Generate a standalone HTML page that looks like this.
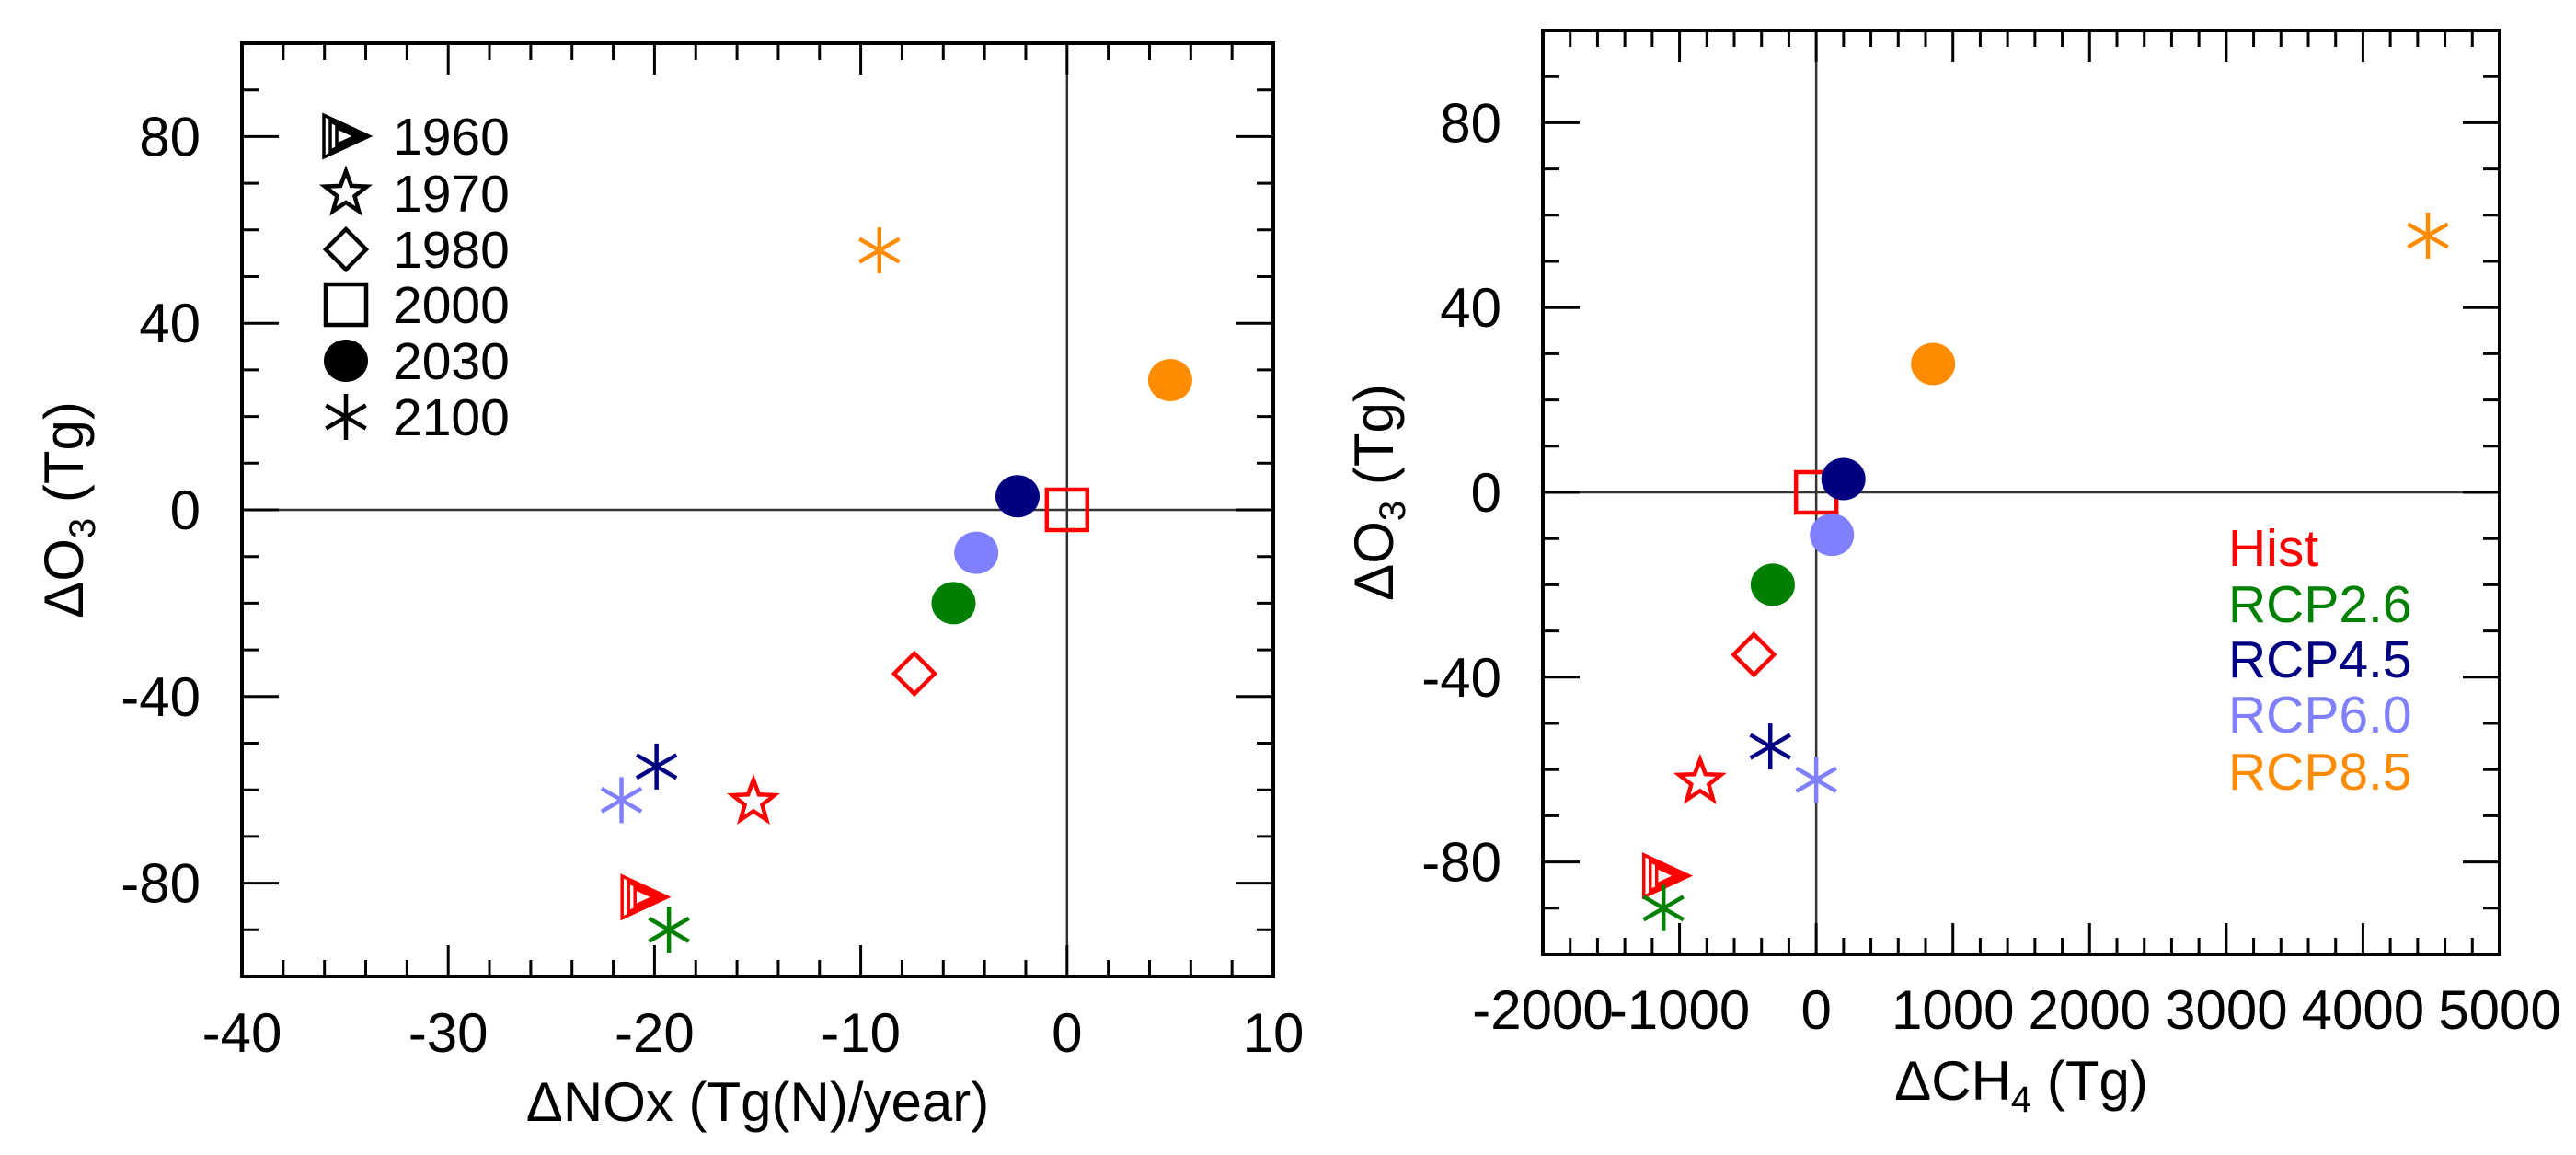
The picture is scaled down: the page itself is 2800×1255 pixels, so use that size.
<!DOCTYPE html>
<html><head><meta charset="utf-8"><style>
html,body{margin:0;padding:0;background:#fff}
svg{display:block}
text{font-family:"Liberation Sans",Arial,sans-serif;fill:#000}
</style></head><body>
<svg id="chart" width="2800" height="1255" viewBox="0 0 2800 1255" xmlns="http://www.w3.org/2000/svg">
<g id="left"></g>
<g id="right"></g>
</svg>
<script>
// Data
const scenarios = ["Hist","Hist","Hist","Hist","RCP2.6","RCP4.5","RCP6.0","RCP8.5","RCP2.6","RCP4.5","RCP6.0","RCP8.5"];
const years = ["1960","1970","1980","2000","2030","2030","2030","2030","2100","2100","2100","2100"];
const dNOx = [-20.5,-15.2,-7.4,0,-5.5,-2.4,-4.4,5.0,-19.3,-19.9,-21.6,-9.1];
const dCH4 = [-1100,-850,-456,0,-318,199,115,855,-1117,-336,0,4475];
const dO3 = [-83,-62.6,-35.1,0,-20,2.9,-9.2,27.8,-90,-55,-62.2,55.6];
const leftXTicks = [-40,-30,-20,-10,0,10];
const rightXTicks = [-2000,-1000,0,1000,2000,3000,4000,5000];
const yTicks = [-80,-40,0,40,80];
const legendYears = ["1960","1970","1980","2000","2030","2100"];
const legendScen = ["Hist","RCP2.6","RCP4.5","RCP6.0","RCP8.5"];

const colors = {"Hist":"#ff0000","RCP2.6":"#008000","RCP4.5":"#000080","RCP6.0":"#8080ff","RCP8.5":"#ff8c00"};
const yearShape = {"1960":"tri","1970":"star","1980":"diamond","2000":"square","2030":"circle","2100":"asterisk"};
const NS="http://www.w3.org/2000/svg";
function mk(tag,attrs,parent){const e=document.createElementNS(NS,tag);for(const k in attrs)e.setAttribute(k,attrs[k]);parent.appendChild(e);return e;}

function marker(g,shape,cx,cy,col){
  let e;
  if(shape==="circle"){e=mk("ellipse",{cx:cx,cy:cy,rx:24,ry:23,fill:col},g);}
  else if(shape==="square"){e=mk("rect",{x:cx-22,y:cy-22,width:44,height:44,fill:"none",stroke:col,"stroke-width":4.5},g);}
  else if(shape==="diamond"){e=mk("polygon",{points:`${cx},${cy-22} ${cx+22},${cy} ${cx},${cy+22} ${cx-22},${cy}`,fill:"none",stroke:col,"stroke-width":4.5},g);}
  else if(shape==="star"){let p=[];for(let i=0;i<10;i++){const r=i%2?10:24;const a=-Math.PI/2+i*Math.PI/5;p.push((cx+r*Math.cos(a)).toFixed(1)+","+(cy+r*Math.sin(a)).toFixed(1));}
    e=mk("polygon",{points:p.join(" "),fill:"none",stroke:col,"stroke-width":4.5,"stroke-linejoin":"miter"},g);}
  else if(shape==="tri"){e=mk("g",{},g);[24,17,10].forEach((s)=>{mk("polygon",{points:`${cx-s},${cy-s*0.95} ${cx+s*1.05},${cy} ${cx-s},${cy+s*0.95}`,fill:"none",stroke:col,"stroke-width":3.5},e);});}
  else if(shape==="asterisk"){e=mk("g",{stroke:col,"stroke-width":4.5},g);
    mk("line",{x1:cx,y1:cy-25,x2:cx,y2:cy+25},e);
    [30,-30].forEach(d=>{const a=d*Math.PI/180;mk("line",{x1:cx-25*Math.cos(a),y1:cy-25*Math.sin(a),x2:cx+25*Math.cos(a),y2:cy+25*Math.sin(a)},e);});}
  return e;
}

function panel(g,box,xmin,xmax,xMinor,xTicks,xs,xTitleParts,yTitleX,xLabY,xTitleY){
  const X=v=>box.l+(v-xmin)/(xmax-xmin)*(box.r-box.l);
  const Y=v=>box.b-(v+100)/200*(box.b-box.t);
  let z=mk("line",{x1:box.l,x2:box.r,y1:Y(0),y2:Y(0),stroke:"#333","stroke-width":2.5},g);
  
  
  z=mk("line",{x1:X(0),x2:X(0),y1:box.t,y2:box.b,stroke:"#333","stroke-width":2.5},g);
  
  
  const tg=mk("g",{stroke:"#000","stroke-width":3},g);
  
  
  for(let v=xmin;v<=xmax+1e-9;v+=xMinor){const maj=Math.abs(Math.round(v/xTicks.step)*xTicks.step-v)<1e-6;const L=maj?34:18;const x=X(v);
    mk("line",{x1:x,x2:x,y1:box.b,y2:box.b-L},tg);mk("line",{x1:x,x2:x,y1:box.t,y2:box.t+L},tg);}
  for(let v=-100;v<=100;v+=10){const maj=v%40===0;const L=maj?40:18;const y=Y(v);
    mk("line",{x1:box.l,x2:box.l+L,y1:y,y2:y},tg);mk("line",{x1:box.r,x2:box.r-L,y1:y,y2:y},tg);}
  const fr=mk("rect",{x:box.l,y:box.t,width:box.r-box.l,height:box.b-box.t,fill:"none",stroke:"#000","stroke-width":4},g);
  
  
  xTicks.vals.forEach(v=>{const t=mk("text",{x:X(v),y:xLabY,"font-size":60,"text-anchor":"middle"},g);t.textContent=String(v);
    
    });
  yTicks.forEach(v=>{const t=mk("text",{x:box.l-45,y:Y(v)+21,"font-size":60,"text-anchor":"end"},g);t.textContent=v;
    
    });
  const xt=mk("text",{x:(box.l+box.r)/2,y:xTitleY,"font-size":60,"text-anchor":"middle"},g);
  xt.innerHTML=xTitleParts;
  
  
  const cy=Y(0);
  const yt=mk("text",{x:0,y:0,"font-size":60,"text-anchor":"middle",transform:`translate(${yTitleX},${cy}) rotate(-90)`},g);
  yt.innerHTML='ΔO<tspan font-size="40" dy="13">3</tspan><tspan dy="-13"> (Tg)</tspan>';
  
  
  for(let i=0;i<years.length;i++){
    const m=marker(g,yearShape[years[i]],X(xs[i]),Y(dO3[i]),colors[scenarios[i]]);
    
    
  }
}
const L=document.getElementById("left"), R=document.getElementById("right");
panel(L,{l:263,r:1384,t:47,b:1061},-40,10,2,{vals:leftXTicks,step:10},dNOx,'ΔNOx (Tg(N)/year)',90,1143,1218);
panel(R,{l:1677,r:2717,t:33,b:1037},-2000,5000,200,{vals:rightXTicks,step:1000},dCH4,'ΔCH<tspan font-size="40" dy="13">4</tspan><tspan dy="-13"> (Tg)</tspan>',1514,1118,1195);

const lg=mk("g",{},L);


const legY=[148,210,271,331,392,453];
legendYears.forEach((yr,i)=>{
  const m=marker(lg,yearShape[yr],376,legY[i],"#000");
  
  
  const t=mk("text",{x:427,y:legY[i]+20,"font-size":57},lg);t.textContent=yr;
  
  
});
const rg=mk("g",{},R);


const rY=[595,656,716,776,838];
legendScen.forEach((s,i)=>{
  const t=mk("text",{x:2422,y:rY[i]+20,"font-size":57,style:"fill:"+colors[s]},rg);t.textContent=s;
  
  
});
</script>
</body></html>
